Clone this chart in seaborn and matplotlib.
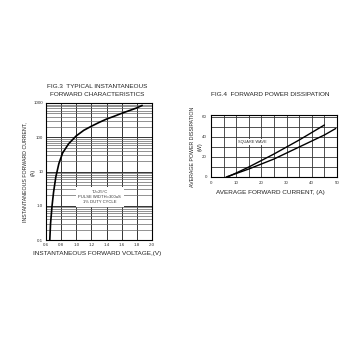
import numpy as np
import pandas as pd
import matplotlib
matplotlib.use("Agg")
import matplotlib.pyplot as plt
import seaborn as sns
from matplotlib.ticker import LogLocator, FixedLocator, MultipleLocator

sns.set_theme(style="white")
plt.rcParams['font.family'] = ['Liberation Sans', 'DejaVu Sans']

# Fig.3 data
fwd_voltage = [0.65, 0.66, 0.68, 0.70, 0.73, 0.77, 0.82, 0.90, 1.00, 1.10, 1.20, 1.30, 1.40, 1.50, 1.60, 1.70, 1.80, 1.87]
fwd_current = [0.1, 0.3, 1, 2.5, 7, 17, 35, 65, 110, 160, 210, 270, 340, 410, 500, 600, 720, 850]
v_ticks = [0.6, 0.8, 1.0, 1.2, 1.4, 1.6, 1.8, 2.0]
v_tick_labels = ["0.6", "0.8", "1.0", "1.2", "1.4", "1.6", "1.8", "2.0"]
i_ticks = [0.1, 1, 10, 100, 1000]
i_tick_labels = ["0.1", "1.0", "10", "100", "1000"]

# Fig.4 data
upper_current = [6.5, 10, 15, 20, 25, 30, 35, 40, 45]
upper_power = [0, 4, 10, 16.5, 23, 30, 37, 44.5, 52]
lower_current = [6, 10, 15, 20, 25, 30, 35, 40, 45, 49.5]
lower_power = [0, 3.5, 8, 13, 18, 24, 30, 36, 42, 48.5]
a_ticks = [0, 10, 20, 30, 40, 50]
p_ticks = [0, 20, 40, 60]

fig = plt.figure(figsize=(3.5, 3.5), dpi=100)
fig.patch.set_facecolor("white")
W = H = 350.0

def ax_rect(x0, y0, x1, y1):
    return [x0 / W, 1 - y1 / H, (x1 - x0) / W, (y1 - y0) / H]

grid_col = "#666666"
tick_fs = 3.2
lab_fs = 4.6

# ---- Left chart
ax1 = fig.add_axes(ax_rect(46, 103, 152, 240))
df1 = pd.DataFrame({"V": fwd_voltage, "I": fwd_current})
sns.lineplot(data=df1, x="V", y="I", ax=ax1, color="black", linewidth=1.2, sort=False)
ax1.set_yscale("log")
ax1.set_xlim(0.6, 2.0)
ax1.set_ylim(0.1, 1000)
ax1.xaxis.set_major_locator(FixedLocator(v_ticks))
ax1.set_xticklabels(v_tick_labels)
ax1.yaxis.set_major_locator(FixedLocator(i_ticks))
ax1.set_yticklabels(i_tick_labels)
ax1.yaxis.set_minor_locator(LogLocator(base=10, subs=np.arange(2, 10)))
ax1.yaxis.set_minor_formatter(matplotlib.ticker.NullFormatter())
ax1.grid(True, which="major", axis="both", color="#333333", linewidth=0.7)
ax1.grid(True, which="minor", axis="y", color=grid_col, linewidth=0.5)
ax1.tick_params(axis="both", which="both", length=0, labelsize=tick_fs, pad=2, colors="#333333")
ax1.set_xlabel("")
ax1.set_ylabel("")
for s in ax1.spines.values():
    s.set_color("black")
    s.set_linewidth(0.8)
ax1.text(1.31, 1.8, "TJ=25\u00b0C\nPULSE WIDTH=300uS\n1% DUTY CYCLE", fontsize=3.0,
         ha="center", va="center", linespacing=1.3, color="#333333",
         bbox=dict(facecolor="white", edgecolor="none", pad=2.0), zorder=5)

fig.text(97 / W, 1 - 87 / H, "FIG.3  TYPICAL INSTANTANEOUS", ha="center", va="center", fontsize=lab_fs, color="#222222")
fig.text(97 / W, 1 - 95 / H, "FORWARD CHARACTERISTICS", ha="center", va="center", fontsize=lab_fs, color="#222222")
fig.text(97 / W, 1 - 253 / H, "INSTANTANEOUS FORWARD VOLTAGE,(V)", ha="center", va="center", fontsize=lab_fs, color="#222222")
fig.text(25 / W, 1 - 172 / H, "INSTANTANEOUS FORWARD CURRENT,", ha="center", va="center", rotation=90, fontsize=3.8, color="#222222")
fig.text(33 / W, 1 - 172 / H, "(A)", ha="center", va="center", rotation=90, fontsize=3.8, color="#222222")

# ---- Right chart
ax2 = fig.add_axes(ax_rect(211, 115, 337, 177))
df_u = pd.DataFrame({"A": upper_current, "P": upper_power})
df_l = pd.DataFrame({"A": lower_current, "P": lower_power})
sns.lineplot(data=df_u, x="A", y="P", ax=ax2, color="black", linewidth=1.0, sort=False)
sns.lineplot(data=df_l, x="A", y="P", ax=ax2, color="black", linewidth=1.0, sort=False)
ax2.set_xlim(0, 50)
ax2.set_ylim(0, 62)
ax2.xaxis.set_major_locator(FixedLocator(a_ticks))
ax2.yaxis.set_major_locator(FixedLocator(p_ticks))
ax2.xaxis.set_minor_locator(MultipleLocator(5))
ax2.yaxis.set_minor_locator(MultipleLocator(10))
ax2.grid(True, which="both", color="#333333", linewidth=0.6)
ax2.tick_params(axis="both", which="both", length=0, labelsize=tick_fs, pad=3, colors="#333333")
ax2.set_xlabel("")
ax2.set_ylabel("")
for s in ax2.spines.values():
    s.set_color("black")
    s.set_linewidth(0.8)
ax2.text(16.5, 35, "SQUARE WAVE", fontsize=2.8, ha="center", va="center", color="#333333",
         bbox=dict(facecolor="white", edgecolor="none", pad=0.8), zorder=5)

fig.text(270 / W, 1 - 94 / H, "FIG.4  FORWARD POWER DISSIPATION", ha="center", va="center", fontsize=lab_fs, color="#222222")
fig.text(270 / W, 1 - 193 / H, "AVERAGE FORWARD CURRENT, (A)", ha="center", va="center", fontsize=lab_fs, color="#222222")
fig.text(193 / W, 1 - 147 / H, "AVERAGE POWER DISSIPATION", ha="center", va="center", rotation=90, fontsize=3.8, color="#222222")
fig.text(200 / W, 1 - 147 / H, "(W)", ha="center", va="center", rotation=90, fontsize=3.8, color="#222222")

fig.savefig("out.png", dpi=100, facecolor="white")
